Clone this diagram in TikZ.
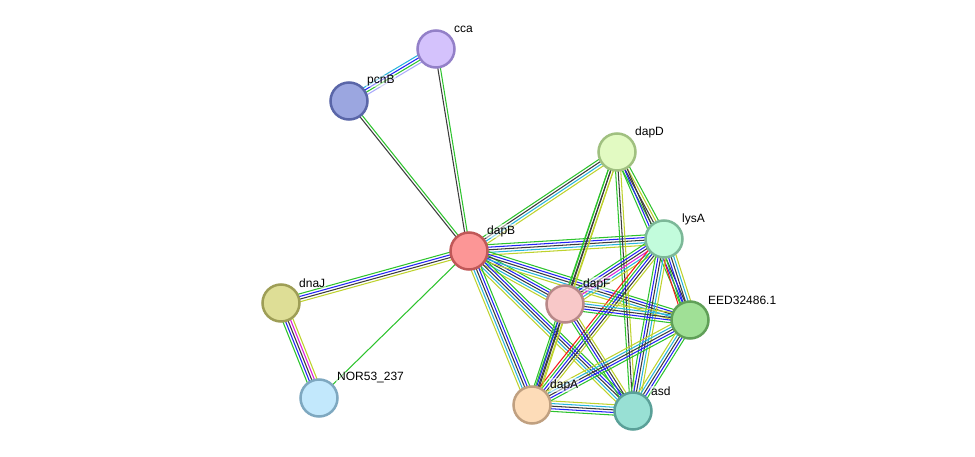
\documentclass[tikz,border=0pt]{standalone}
\usepackage{fontspec}
\setmainfont{Liberation Sans}
\usetikzlibrary{calc,backgrounds}
\definecolor{G}{RGB}{45,195,45}
\definecolor{B}{RGB}{35,35,245}
\definecolor{K}{RGB}{60,60,60}
\definecolor{C}{RGB}{40,180,220}
\definecolor{Y}{RGB}{190,210,45}
\definecolor{R}{RGB}{245,25,25}
\definecolor{M}{RGB}{220,30,220}
\definecolor{L}{RGB}{170,170,250}
\tikzset{
  ec/.style={draw=#1, line width=1.05pt},
  prot/.style={circle, minimum size=37pt, inner sep=0pt, line width=2.5pt},
  lbl/.style={font=\fontsize{12}{14}\selectfont, anchor=west, inner sep=1pt, text=black, fill=white, fill opacity=0.5, text opacity=1}
}
\newcommand\sedge[4]{%
  \foreach \cc [count=\ii] in {#4} {%
    \pgfmathsetmacro\off{(\ii-1-(#3-1)/2)*2.6}%
    \draw[ec=\cc] ($(#1)!\off pt!90:(#2)$) -- ($(#2)!\off pt!-90:(#1)$);
  }}
\begin{document}
\begin{tikzpicture}[x=1pt,y=-1pt]
\useasboundingbox (0,0) rectangle (975,457);
\node[prot, fill={rgb,255:red,212;green,194;blue,252}, draw={rgb,255:red,147;green,128;blue,200}] (cca) at (436,49) {};
\node[prot, fill={rgb,255:red,155;green,166;blue,224}, draw={rgb,255:red,90;green,102;blue,168}] (pcnB) at (349,101) {};
\node[prot, fill={rgb,255:red,226;green,250;blue,194}, draw={rgb,255:red,160;green,192;blue,128}] (dapD) at (617,152) {};
\node[prot, fill={rgb,255:red,194;green,252;blue,220}, draw={rgb,255:red,124;green,184;blue,152}] (lysA) at (664,239) {};
\node[prot, fill={rgb,255:red,252;green,150;blue,150}, draw={rgb,255:red,192;green,88;blue,88}] (dapB) at (469,251) {};
\node[prot, fill={rgb,255:red,222;green,222;blue,150}, draw={rgb,255:red,158;green,158;blue,86}] (dnaJ) at (281,303) {};
\node[prot, fill={rgb,255:red,248;green,200;blue,200}, draw={rgb,255:red,184;green,136;blue,136}] (dapF) at (565,304) {};
\node[prot, fill={rgb,255:red,160;green,224;blue,150}, draw={rgb,255:red,96;green,160;blue,88}] (eed) at (690,320) {};
\node[prot, fill={rgb,255:red,194;green,232;blue,252}, draw={rgb,255:red,126;green,168;blue,192}] (nor) at (319,398) {};
\node[prot, fill={rgb,255:red,253;green,220;blue,184}, draw={rgb,255:red,192;green,160;blue,128}] (dapA) at (532,405) {};
\node[prot, fill={rgb,255:red,152;green,224;blue,212}, draw={rgb,255:red,90;green,160;blue,152}] (asd) at (633,411) {};
\begin{scope}[on background layer]
\sedge{cca}{pcnB}{4}{C,B,G,L}
\sedge{pcnB}{dapB}{2}{K,G}
\sedge{cca}{dapB}{2}{K,G}
\sedge{dapB}{dapD}{4}{Y,C,K,G}
\sedge{dapB}{lysA}{5}{Y,C,K,B,G}
\sedge{dapB}{dapF}{5}{Y,C,K,B,G}
\sedge{dapB}{eed}{5}{Y,C,K,B,G}
\sedge{dapB}{asd}{5}{Y,C,K,B,G}
\sedge{dapB}{dapA}{5}{Y,C,K,B,G}
\sedge{dapB}{dnaJ}{4}{G,B,K,Y}
\sedge{dapB}{nor}{1}{G}
\sedge{dnaJ}{nor}{5}{G,B,K,M,Y}
\sedge{dapD}{lysA}{4}{G,K,Y,G}
\sedge{dapD}{eed}{3}{G,B,K}
\sedge{dapD}{dapF}{3}{G,K,Y}
\sedge{dapD}{dapA}{3}{G,K,Y}
\sedge{dapD}{asd}{3}{G,K,Y}
\sedge{lysA}{dapF}{6}{G,B,K,M,C,Y}
\sedge{lysA}{dapA}{5}{R,G,B,K,Y}
\sedge{lysA}{eed}{6}{R,G,B,K,C,Y}
\sedge{lysA}{asd}{5}{G,B,K,C,Y}
\sedge{dapF}{eed}{5}{G,B,K,C,Y}
\sedge{dapF}{asd}{4}{G,B,K,Y}
\sedge{dapF}{dapA}{4}{G,B,K,Y}
\sedge{dapA}{asd}{5}{G,B,K,C,Y}
\sedge{dapA}{eed}{5}{G,B,K,C,Y}
\sedge{asd}{eed}{5}{G,B,K,C,Y}
\end{scope}
\node[lbl] (lcca) at ($(cca)+(17,-20)$) {cca};
\node[lbl] (lpcnB) at ($(pcnB)+(17,-20)$) {pcnB};
\node[lbl] (ldapD) at ($(dapD)+(17,-20)$) {dapD};
\node[lbl] (llysA) at ($(lysA)+(17,-20)$) {lysA};
\node[lbl] (ldapB) at ($(dapB)+(17,-20)$) {dapB};
\node[lbl] (ldnaJ) at ($(dnaJ)+(17,-20)$) {dnaJ};
\node[lbl] (ldapF) at ($(dapF)+(17,-20)$) {dapF};
\node[lbl] (leed) at ($(eed)+(17,-20)$) {EED32486.1};
\node[lbl] (lnor) at ($(nor)+(17,-20)$) {NOR53\_237};
\node[lbl] (ldapA) at ($(dapA)+(17,-20)$) {dapA};
\node[lbl] (lasd) at ($(asd)+(17,-20)$) {asd};
\end{tikzpicture}
\end{document}
